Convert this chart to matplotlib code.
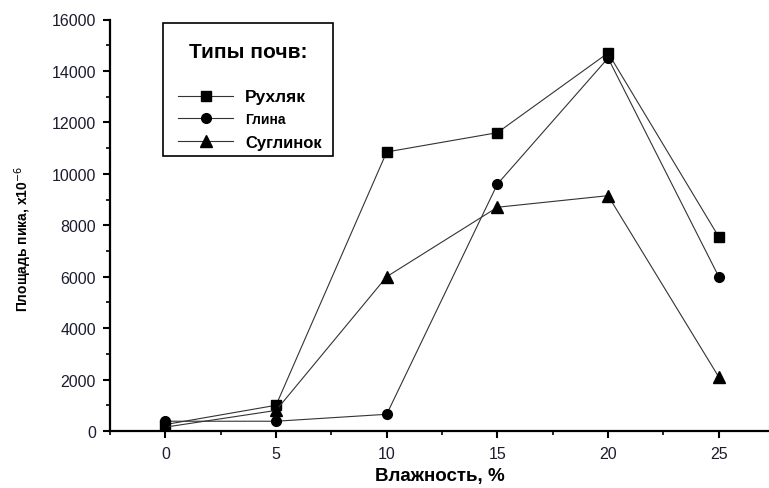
import matplotlib
matplotlib.use("Agg")
import matplotlib.pyplot as plt
from matplotlib.patches import Rectangle
from matplotlib.ticker import MultipleLocator

# data
humidity = [0, 5, 10, 15, 20, 25]
rukhlyak = [250, 1000, 10850, 11600, 14700, 7550]
glina = [380, 380, 650, 9600, 14500, 6000]
suglinok = [150, 800, 6000, 8700, 9150, 2100]

bold_font = ['Liberation Sans', 'DejaVu Sans']
plain = ['Liberation Sans', 'DejaVu Sans']

W, H = 769, 489
fig = plt.figure(figsize=(W / 100, H / 100), dpi=100)
ax = fig.add_axes([110 / W, 57 / H, 659 / W, 411.5 / H])

ax.plot(humidity, rukhlyak, color='#333333', lw=0.8, marker='s', ms=7, mfc='black', mec='black', label='Рухляк')
ax.plot(humidity, glina, color='#333333', lw=0.8, marker='o', ms=7, mfc='black', mec='black', label='Глина')
ax.plot(humidity, suglinok, color='#333333', lw=0.8, marker='^', ms=8, mfc='black', mec='black', label='Суглинок')

ax.set_xlim(-2.5, 27.27)
ax.set_ylim(0, 16000)
ax.xaxis.set_major_locator(MultipleLocator(5))
ax.xaxis.set_minor_locator(MultipleLocator(2.5))
ax.yaxis.set_major_locator(MultipleLocator(2000))
ax.yaxis.set_minor_locator(MultipleLocator(1000))

for s in ['top', 'right']:
    ax.spines[s].set_visible(False)
for s in ['left', 'bottom']:
    ax.spines[s].set_linewidth(1.6)
ax.tick_params(which='major', direction='out', length=5, width=1.5, labelsize=11.5, colors='black', labelcolor='#1c1c30')
ax.tick_params(which='minor', direction='out', length=3, width=1.2)
for lab in ax.get_xticklabels() + ax.get_yticklabels():
    lab.set_family(plain)
ax.tick_params(axis='x', pad=6)
ax.tick_params(axis='y', pad=5)

ax.set_xlabel('Влажность, %', family=bold_font, fontweight='bold', fontsize=13.5, labelpad=4)
ax.set_ylabel('Площадь пика, х10$^{-6}$', family=bold_font, fontweight='bold', fontsize=10)
ax.yaxis.set_label_coords(-0.115, 0.47)

# legend box drawn by hand: frame, title, then entries
fig.patches.append(Rectangle((163 / W, 1 - 157 / H), 170 / W, 133 / H, transform=fig.transFigure,
                             fill=False, edgecolor='black', lw=1.2))
fig.text(248 / W, 1 - 53 / H, 'Типы почв:', family=bold_font, fontweight='bold', fontsize=15,
         ha='center', va='center')
leg = ax.legend(loc='upper left', bbox_to_anchor=(178 / W, 1 - 90 / H), bbox_transform=fig.transFigure,
                borderaxespad=0, borderpad=0, frameon=False,
                handlelength=3.6, handletextpad=0.8, labelspacing=0.55,
                prop={'family': bold_font, 'weight': 'bold', 'size': 11})
sizes = [12.5, 10, 12]
for t, sz in zip(leg.get_texts(), sizes):
    t.set_fontsize(sz)

fig.savefig('out.png', dpi=100)
